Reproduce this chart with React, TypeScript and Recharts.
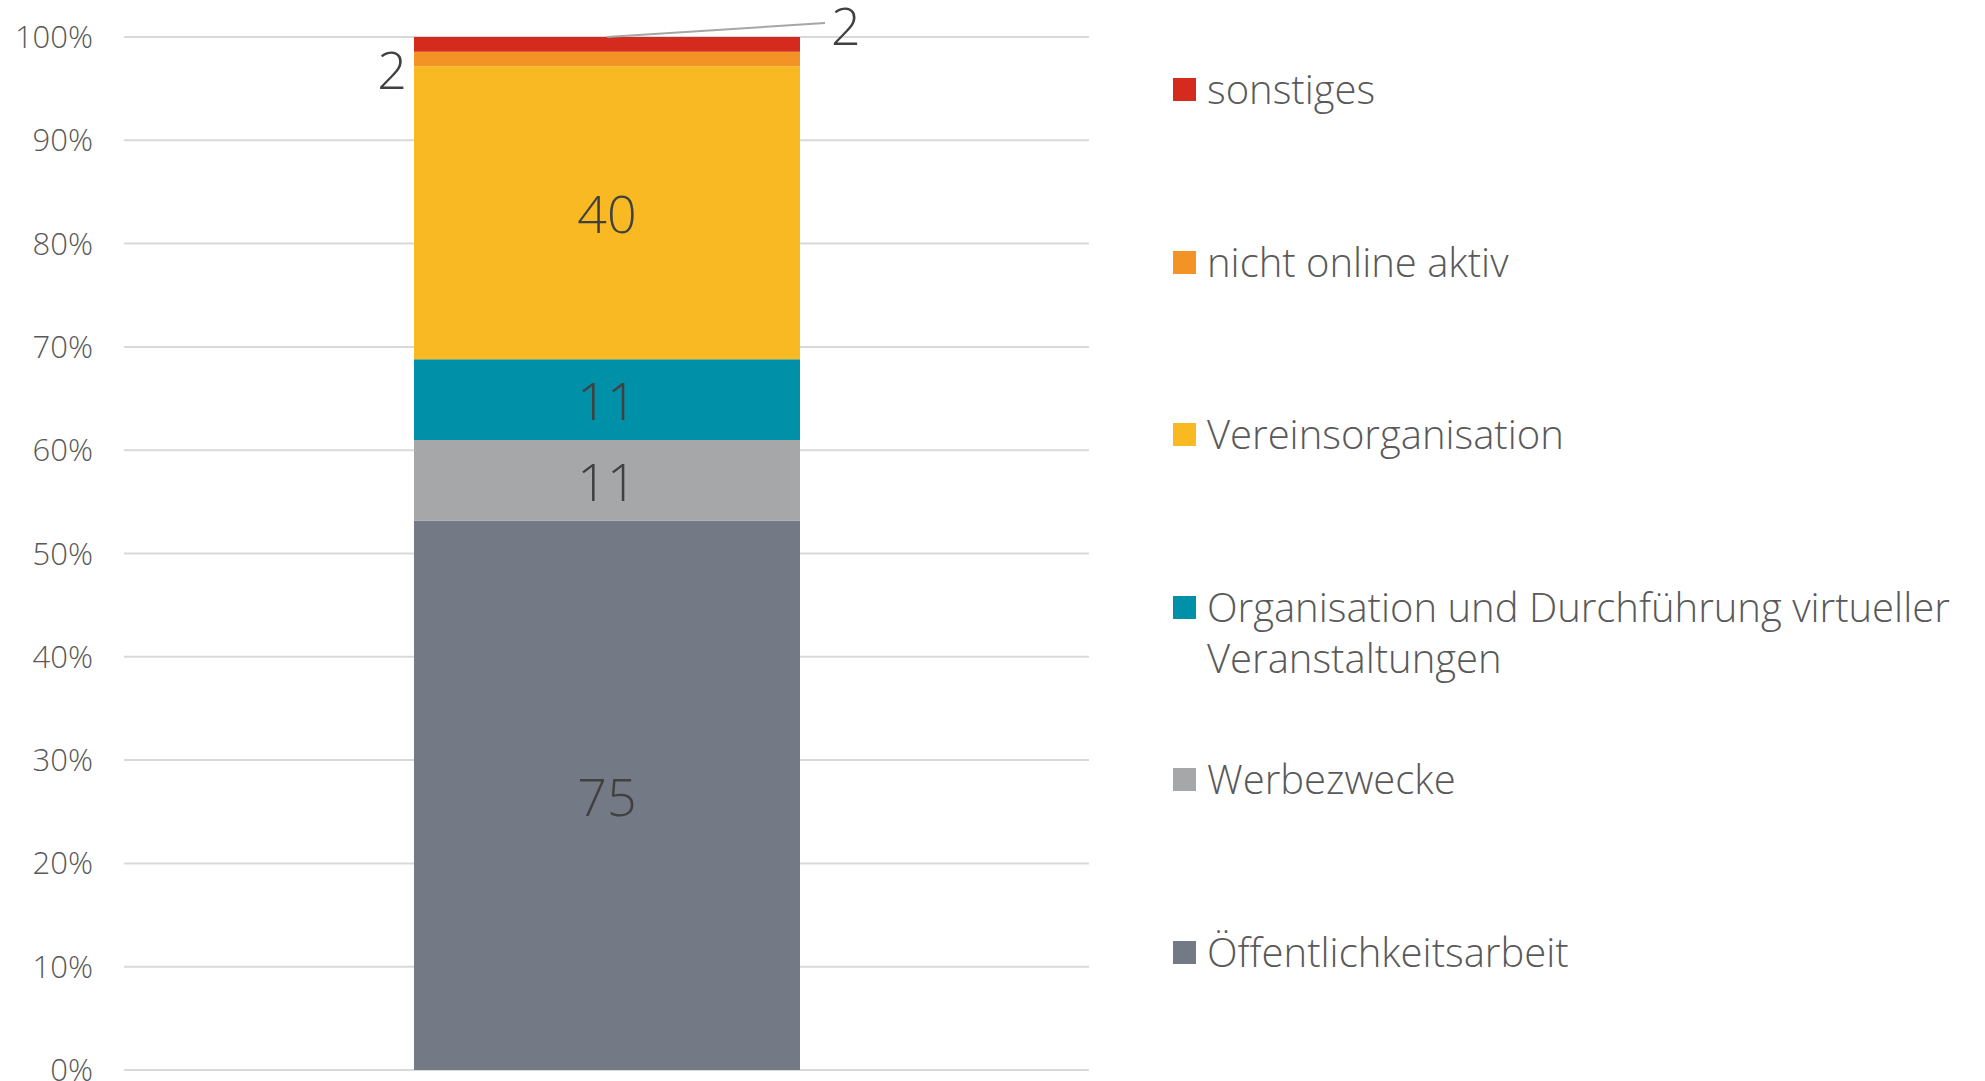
import React from 'react';
import { BarChart, Bar, XAxis, YAxis, CartesianGrid, LabelList } from 'recharts';

const categories = [''];
const seriesNames = [
  'Öffentlichkeitsarbeit',
  'Werbezwecke',
  'Organisation und Durchführung virtueller Veranstaltungen',
  'Vereinsorganisation',
  'nicht online aktiv',
  'sonstiges',
];
const seriesValues = [75, 11, 11, 40, 2, 2];
const seriesColors = ['#737a85', '#a6a7a9', '#0090a8', '#f9b922', '#f39325', '#d52b1e'];
const yTicks = [0, 10, 20, 30, 40, 50, 60, 70, 80, 90, 100];

const FONT = '"Open Sans", "Segoe UI", sans-serif';

const data = categories.map((name) => {
  const row: any = { name };
  seriesValues.forEach((v, i) => {
    row['s' + i] = v;
  });
  return row;
});

const CenterLabel = (props: any) => {
  const vb = props.viewBox || props;
  return (
    <text
      x={vb.x + vb.width / 2}
      y={vb.y + vb.height / 2}
      textAnchor="middle"
      dominantBaseline="central"
      fill="#404040"
      fontSize={52}
      fontFamily={FONT}
      fontWeight={300}
    >
      {props.value}
    </text>
  );
};

const LeftLabel = (props: any) => {
  const vb = props.viewBox || props;
  return (
    <text
      x={vb.x - 7}
      y={vb.y + vb.height + 2}
      textAnchor="end"
      dominantBaseline="central"
      fill="#404040"
      fontSize={52}
      fontFamily={FONT}
      fontWeight={300}
    >
      {props.value}
    </text>
  );
};

const LeaderLabel = (props: any) => {
  const vb = props.viewBox || props;
  const cx = vb.x + vb.width / 2;
  const top = vb.y;
  return (
    <g>
      <line x1={cx} y1={top} x2={cx + 218} y2={top - 14} stroke="#a6a6a6" strokeWidth={2} />
      <text
        x={cx + 224}
        y={top - 13}
        textAnchor="start"
        dominantBaseline="central"
        fill="#404040"
        fontSize={52}
        fontFamily={FONT}
        fontWeight={300}
      >
        {props.value}
      </text>
    </g>
  );
};

const labelFor = (i: number) => {
  if (i === 4) return LeftLabel;
  if (i === 5) return LeaderLabel;
  return CenterLabel;
};

const legendOrder = [5, 4, 3, 2, 1, 0];

export default function App() {
  return (
    <div style={{ position: 'absolute', left: 0, top: 0, width: 1985, height: 1081, background: '#fff', fontFamily: FONT }}>
      <BarChart
        width={1985}
        height={1081}
        data={data}
        stackOffset="expand"
        margin={{ top: 37, right: 896, bottom: 11, left: 0 }}
      >
        <CartesianGrid vertical={false} stroke="#d9d9d9" strokeWidth={2} />
        <XAxis dataKey="name" hide />
        <YAxis
          width={124}
          domain={[0, 1]}
          ticks={yTicks.map((t) => t / 100)}
          interval={0}
          tickFormatter={(v: number) => Math.round(v * 100) + '%'}
          axisLine={false}
          tickLine={false}
          tickMargin={25}
          tick={{ fill: '#595959', fontSize: 31, fontFamily: FONT, fontWeight: 300 }}
        />
        {seriesNames.map((name, i) => (
          <Bar
            key={name}
            dataKey={'s' + i}
            name={name}
            stackId="a"
            fill={seriesColors[i]}
            barSize={386}
            isAnimationActive={false}
          >
            <LabelList dataKey={'s' + i} content={labelFor(i)} />
          </Bar>
        ))}
      </BarChart>
      {legendOrder.map((i, k) => (
        <div
          key={seriesNames[i]}
          style={{
            position: 'absolute',
            left: 1173,
            top: 89 + k * 172.6 - 26,
            display: 'flex',
            alignItems: 'flex-start',
          }}
        >
          <div style={{ width: 23, height: 23, background: seriesColors[i], marginTop: 15, marginRight: 11, flex: 'none' }} />
          <div style={{ width: 790, fontSize: 40, lineHeight: '51px', color: '#595959', fontWeight: 300 }}>
            {seriesNames[i]}
          </div>
        </div>
      ))}
    </div>
  );
}
